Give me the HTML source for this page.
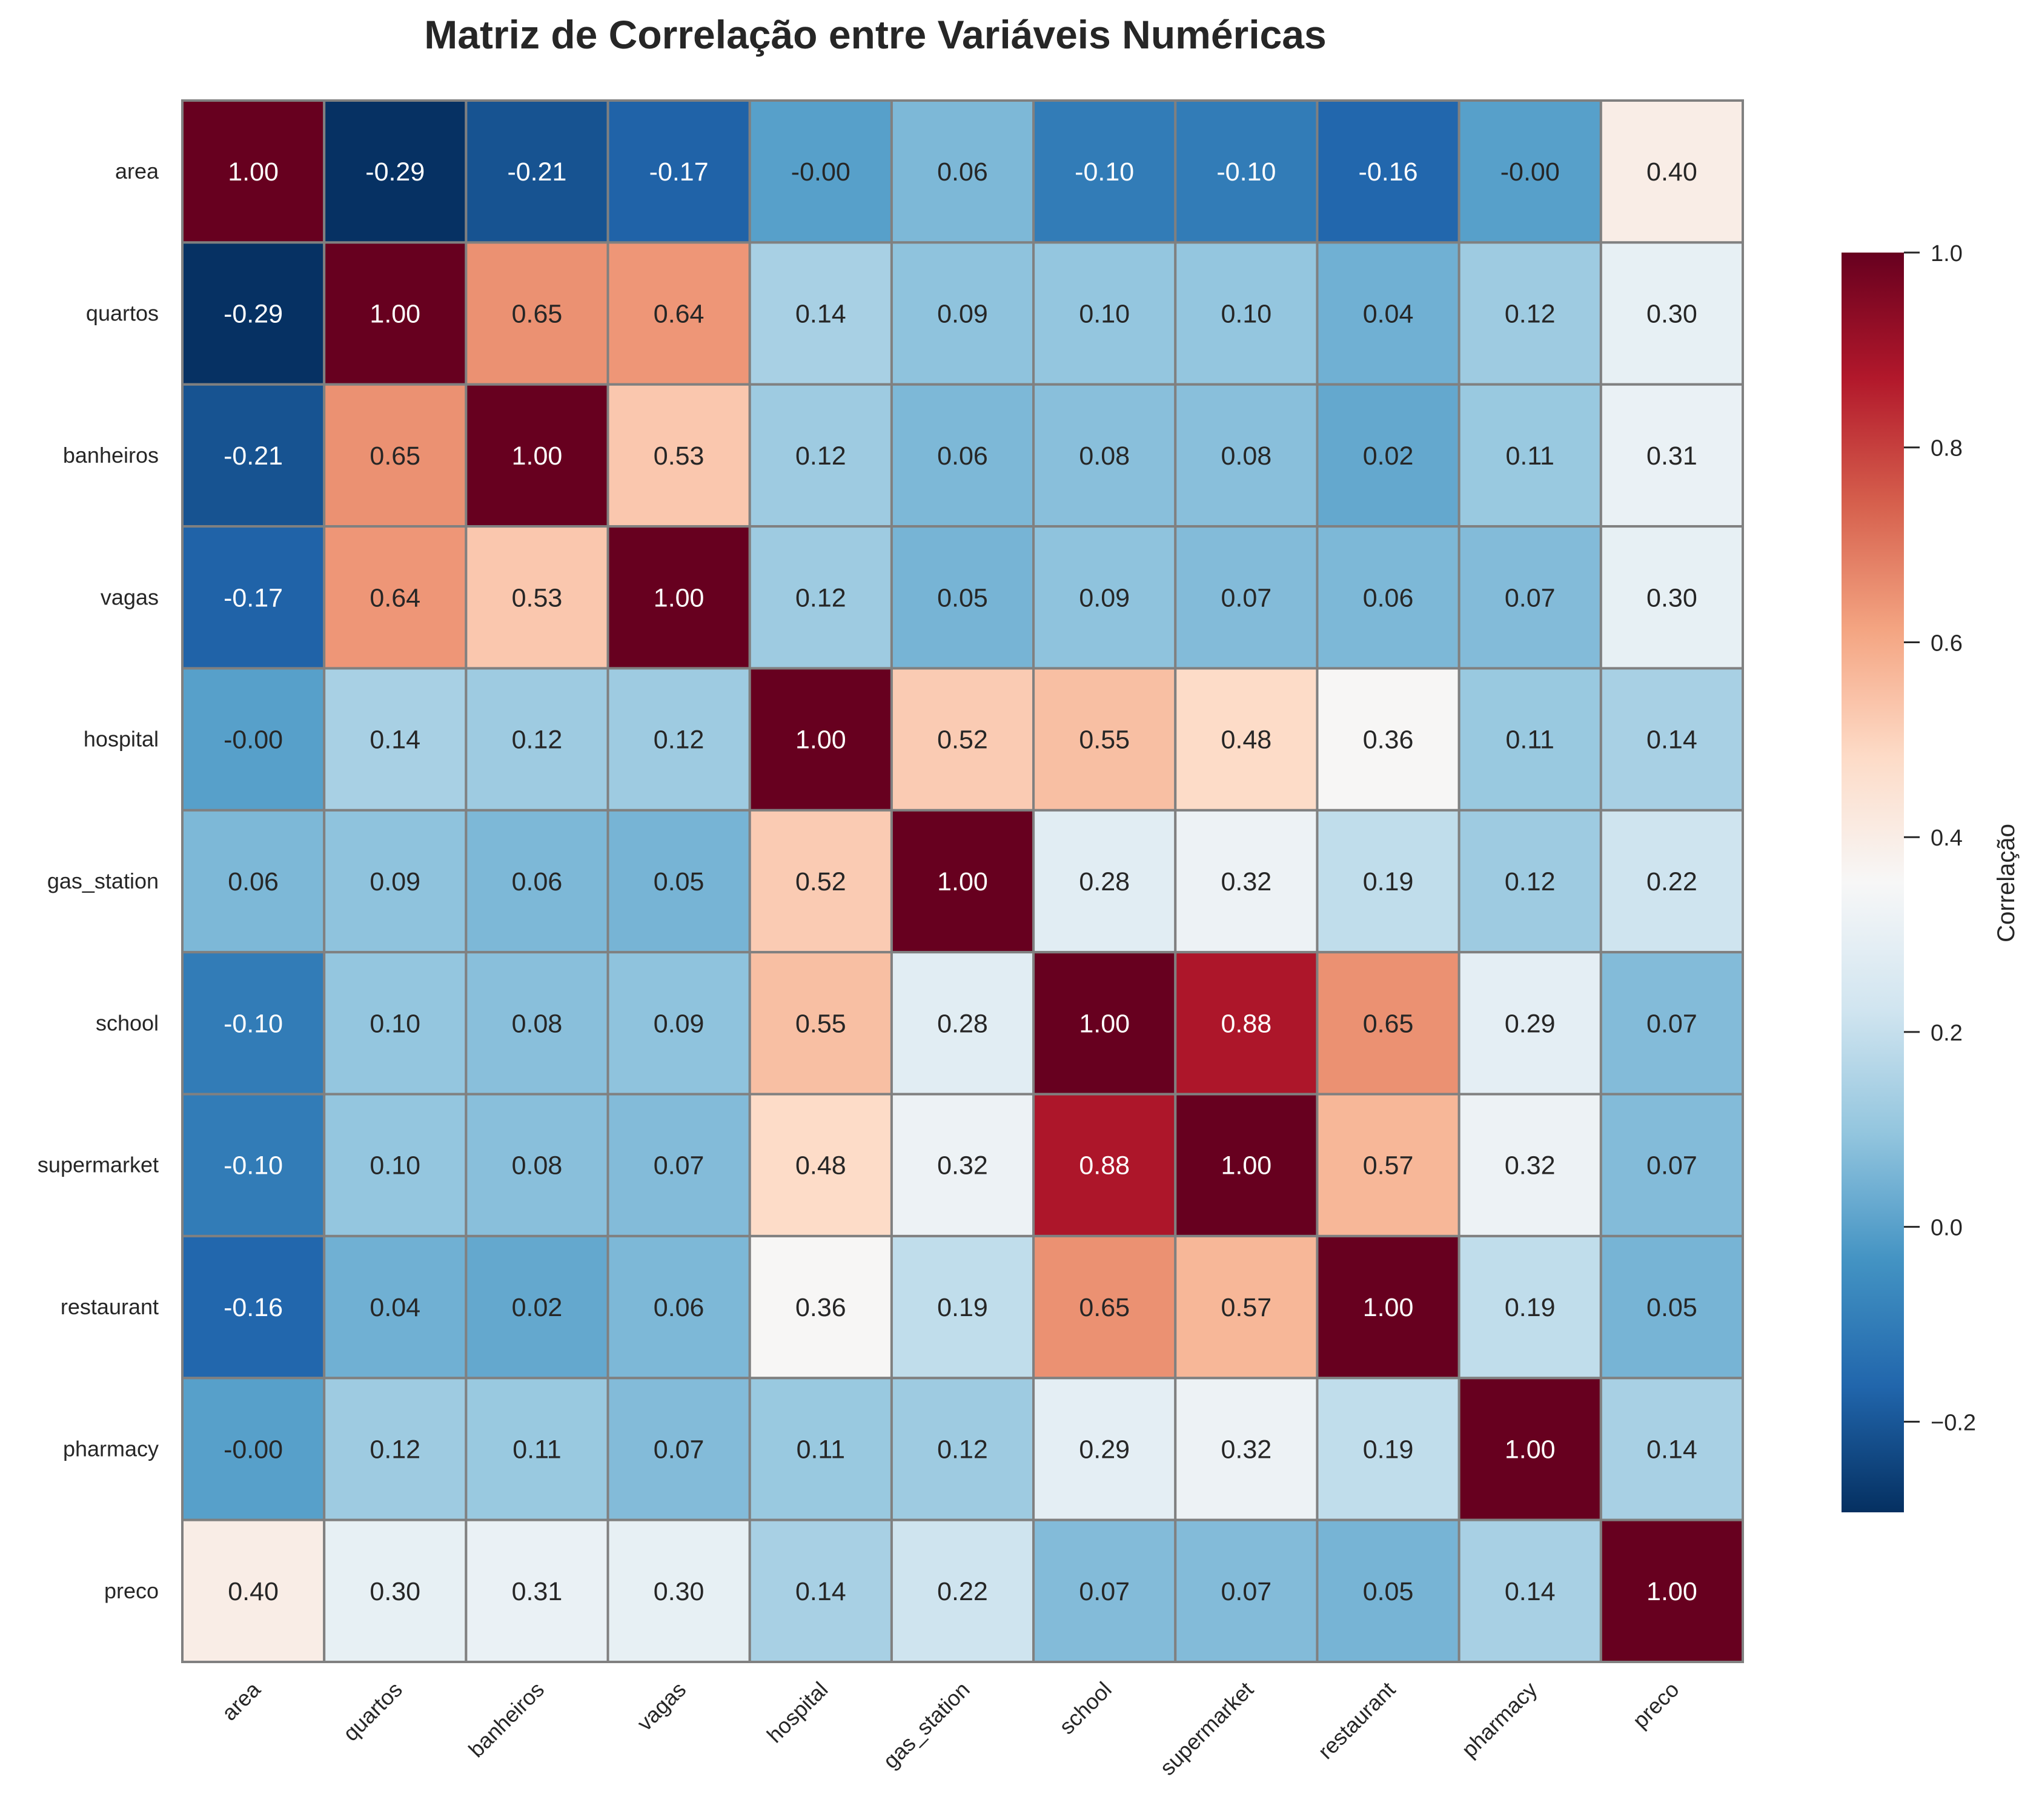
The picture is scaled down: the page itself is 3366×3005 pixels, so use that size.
<!DOCTYPE html>
<html><head><meta charset="utf-8">
<style>
html,body{margin:0;padding:0;background:#fff;}
svg{display:block;font-family:"Liberation Sans",Arial,sans-serif;}
</style></head>
<body>
<svg id="chart" width="3366" height="3005" viewBox="0 0 3366 3005" xmlns="http://www.w3.org/2000/svg">
<rect width="3366" height="3005" fill="#fff"/>
<text x="1445" y="80" text-anchor="middle" font-size="66" font-weight="bold" fill="#262626">Matriz de Correlação entre Variáveis Numéricas</text>
<g id="cells"></g>
<g id="ylabels"></g>
<g id="xlabels"></g>
<defs><linearGradient id="cbgrad" x1="0" y1="1" x2="0" y2="0"></linearGradient></defs>
<g id="colorbar"></g>
<text x="3325" y="1458" text-anchor="middle" font-size="40" fill="#262626" transform="rotate(-90 3325 1458)">Correlação</text>
</svg>
<script>
const variables = ["area","quartos","banheiros","vagas","hospital","gas_station","school","supermarket","restaurant","pharmacy","preco"];
const corrRows = [
 [1.00,-0.29,-0.21,-0.17,-0.001,0.06,-0.10,-0.10,-0.16,-0.001,0.40],
 [-0.29,1.00,0.65,0.64,0.14,0.09,0.10,0.10,0.04,0.12,0.30],
 [-0.21,0.65,1.00,0.53,0.12,0.06,0.08,0.08,0.02,0.11,0.31],
 [-0.17,0.64,0.53,1.00,0.12,0.05,0.09,0.07,0.06,0.07,0.30],
 [-0.001,0.14,0.12,0.12,1.00,0.52,0.55,0.48,0.36,0.11,0.14],
 [0.06,0.09,0.06,0.05,0.52,1.00,0.28,0.32,0.19,0.12,0.22],
 [-0.10,0.10,0.08,0.09,0.55,0.28,1.00,0.88,0.65,0.29,0.07],
 [-0.10,0.10,0.08,0.07,0.48,0.32,0.88,1.00,0.57,0.32,0.07],
 [-0.16,0.04,0.02,0.06,0.36,0.19,0.65,0.57,1.00,0.19,0.05],
 [-0.001,0.12,0.11,0.07,0.11,0.12,0.29,0.32,0.19,1.00,0.14],
 [0.40,0.30,0.31,0.30,0.14,0.22,0.07,0.07,0.05,0.14,1.00]
];
const colorbarTicks = [-0.2,0.0,0.2,0.4,0.6,0.8,1.0];
const colorRange = [-0.293,1.0];

const NS="http://www.w3.org/2000/svg";
const X0=301,X1=2877,Y0=166,Y1=2744;
const n=variables.length, cw=(X1-X0)/n, ch=(Y1-Y0)/n;
const xPos=i=>X0+i*cw, yPos=i=>Y0+i*ch;
const stops=["#053061","#2166ac","#4393c3","#92c5de","#d1e5f0","#f7f7f7","#fddbc7","#f4a582","#d6604d","#b2182b","#67001f"].map(h=>[parseInt(h.slice(1,3),16),parseInt(h.slice(3,5),16),parseInt(h.slice(5,7),16)]);
function cmapT(t){t=Math.max(0,Math.min(1,t));const p=t*10,i=Math.min(9,Math.floor(p)),f=p-i;return stops[i].map((c,k)=>Math.round(c+(stops[i+1][k]-c)*f));}
function norm(v){return (v-colorRange[0])/(colorRange[1]-colorRange[0]);}
function mk(tag,attrs,parent){const e=document.createElementNS(NS,tag);for(const k in attrs)e.setAttribute(k,attrs[k]);parent.appendChild(e);return e;}

const cells=document.getElementById('cells');
corrRows.forEach((row,r)=>row.forEach((v,c)=>{
  const rgb=cmapT(norm(v));
  const rect=mk('rect',{x:xPos(c),y:yPos(r),width:cw,height:ch,fill:`rgb(${rgb})`,stroke:'#808080','stroke-width':4},cells);
  
  
  const lum=(0.299*rgb[0]+0.587*rgb[1]+0.114*rgb[2])/255;
  const t=mk('text',{x:xPos(c)+cw/2,y:yPos(r)+ch/2+15,'text-anchor':'middle','font-size':43,fill:lum<0.5?'#fff':'#262626'},cells);
  t.textContent=v.toFixed(2);
  
  
}));

const yl=document.getElementById('ylabels'), xl=document.getElementById('xlabels');
variables.forEach((name,i)=>{
  const t=mk('text',{x:262,y:yPos(i)+ch/2+12,'text-anchor':'end','font-size':36,fill:'#262626'},yl);
  t.textContent=name;
  
  
  const cx=xPos(i)+cw/2+14, cy=2792;
  const u=mk('text',{x:cx,y:cy,'text-anchor':'end','font-size':36,fill:'#262626',transform:`rotate(-45 ${cx} ${cy})`},xl);
  u.textContent=name;
  
  
});

const grad=document.getElementById('cbgrad');
for(let k=0;k<=20;k++){const rgb=cmapT(k/20);mk('stop',{offset:k/20,'stop-color':`rgb(${rgb})`},grad);}
const cb=document.getElementById('colorbar');
const CBX=3040,CBW=103,CBT=417,CBB=2497;
const cbY=v=>CBB-(v-colorRange[0])/(colorRange[1]-colorRange[0])*(CBB-CBT);
const bar=mk('rect',{x:CBX,y:CBT,width:CBW,height:CBB-CBT,fill:'url(#cbgrad)'},cb);


colorbarTicks.forEach(v=>{
  const y=cbY(v);
  const l=mk('line',{x1:CBX+CBW,x2:CBX+CBW+26,y1:y,y2:y,stroke:'#262626','stroke-width':3},cb);
  
  
  const t=mk('text',{x:3187,y:y+14,'font-size':38,fill:'#262626'},cb);
  t.textContent=(v<0?'\u2212':'')+Math.abs(v).toFixed(1);
  
  
});
</script>
</body></html>
